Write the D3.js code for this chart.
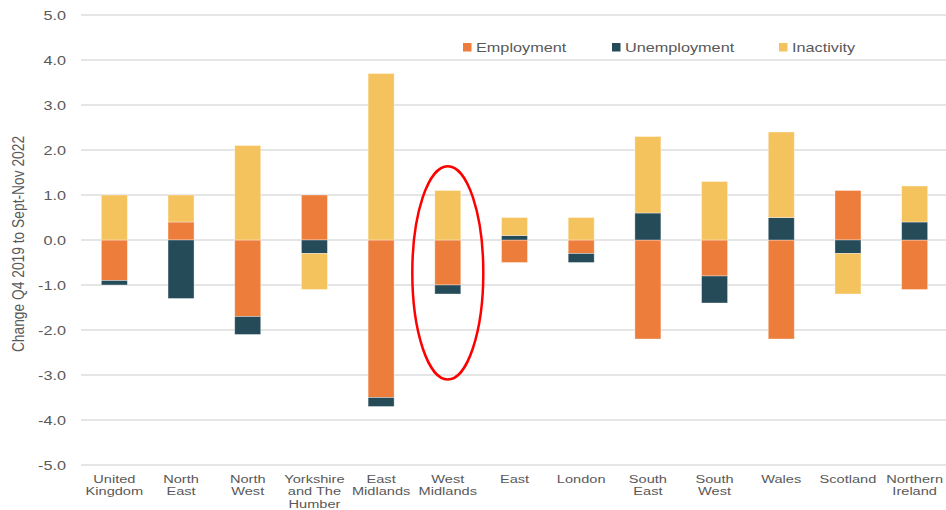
<!DOCTYPE html>
<html>
<head>
<meta charset="utf-8">
<script src="https://cdn.jsdelivr.net/npm/d3@7"></script>
<style>
  html, body { margin: 0; padding: 0; background: #fff; }
  svg { display: block; }
  text { font-family: "Liberation Sans", Arial, sans-serif; fill: #595959; }
</style>
</head>
<body>
<svg id="chart" width="946" height="510"></svg>
<script>
// ---- Data ----
const regions = [
  ["United", "Kingdom"], ["North", "East"], ["North", "West"],
  ["Yorkshire", "and The", "Humber"], ["East", "Midlands"], ["West", "Midlands"],
  ["East"], ["London"], ["South", "East"], ["South", "West"],
  ["Wales"], ["Scotland"], ["Northern", "Ireland"]
];
const seriesNames = ["Employment", "Unemployment", "Inactivity"];
const employment   = [-0.9, 0.4, -1.7, 1.0, -3.5, -1.0, -0.5, -0.3, -2.2, -0.8, -2.2, 1.1, -1.1];
const unemployment = [-0.1, -1.3, -0.4, -0.3, -0.2, -0.2, 0.1, -0.2, 0.6, -0.6, 0.5, -0.3, 0.4];
const inactivity   = [1.0, 0.6, 2.1, -0.8, 3.7, 1.1, 0.4, 0.5, 1.7, 1.3, 1.9, -0.9, 0.8];
const yTicks = [5, 4, 3, 2, 1, 0, -1, -2, -3, -4, -5];
const yTitle = "Change Q4 2019 to Sept-Nov 2022";
const highlighted = "West Midlands";

const colors = { Employment: "#ED7D3A", Unemployment: "#254B59", Inactivity: "#F5C35D" };

// ---- Build table ----
const names = regions.map(r => r.join(" "));
const table = names.map((n, i) => ({
  region: n,
  Employment: employment[i],
  Unemployment: unemployment[i],
  Inactivity: inactivity[i]
}));

const svg = d3.select("#chart");
const plotLeft = 81, plotRight = 948, plotTop = 15, plotBottom = 465;

const x = d3.scaleBand().domain(names).range([plotLeft, plotRight])
  .paddingInner(0.61).paddingOuter(0.305);
const y = d3.scaleLinear().domain([-5, 5]).range([plotBottom, plotTop]);

const SX = 1.3; // horizontal stretch of text in the reference

// gridlines
svg.append("g").selectAll("line").data(yTicks).join("line")
  .attr("x1", plotLeft).attr("x2", 946)
  .attr("y1", d => y(d)).attr("y2", d => y(d))
  .attr("stroke", "#dcdcdc").attr("stroke-width", 1.3);

// y tick labels
const fmt = d => d3.format(".1f")(d).replace("\u2212", "-");
const yAxis = d3.axisLeft(y).tickValues(yTicks).tickFormat(fmt).tickSize(0).tickPadding(0);
const yg = svg.append("g").attr("transform", `translate(66,0)`).call(yAxis);
yg.select(".domain").remove();
yg.selectAll(".tick text")
  .attr("x", null).attr("dy", null)
  .attr("dominant-baseline", "central")
  .attr("text-anchor", "end")
  .style("font-size", "12.5px")
  .style("fill", "#595959")
  .style("font-family", "'Liberation Sans', Arial, sans-serif")
  .attr("transform", `scale(${SX},1)`);

// y title
svg.append("text")
  .attr("transform", `translate(24,244) rotate(-90) scale(1,1.2)`)
  .attr("text-anchor", "middle")
  .style("font-size", "13.8px")
  .text(yTitle);

// stacked bars
const stack = d3.stack().keys(seriesNames).offset(d3.stackOffsetDiverging);
const stacked = stack(table);

svg.append("g").selectAll("g").data(stacked).join("g")
  .attr("fill", d => colors[d.key])
  .selectAll("rect").data(d => d).join("rect")
  .attr("x", d => x(d.data.region))
  .attr("width", x.bandwidth())
  .attr("y", d => y(Math.max(d[0], d[1])))
  .attr("height", d => Math.abs(y(d[0]) - y(d[1])))
  .attr("stroke", "rgba(255,255,255,0.45)")
  .attr("stroke-width", 0.8);

// x labels
const xl = svg.append("g");
regions.forEach((lines, i) => {
  const cx = x(names[i]) + x.bandwidth() / 2;
  lines.forEach((ln, j) => {
    xl.append("text")
      .attr("transform", `translate(${cx},${482.5 + j * 12.5}) scale(1.27,1)`)
      .attr("text-anchor", "middle")
      .style("font-size", "11.5px")
      .text(ln);
  });
});

// legend
const legendPos = [463, 612, 779];
const lg = svg.append("g");
seriesNames.forEach((s, i) => {
  lg.append("rect").attr("x", legendPos[i]).attr("y", 43)
    .attr("width", 8.5).attr("height", 8.5).attr("fill", colors[s]);
  lg.append("text")
    .attr("transform", `translate(${legendPos[i] + 13},52) scale(1.25,1)`)
    .style("font-size", "13px")
    .text(s);
});

// highlight ellipse
svg.append("ellipse")
  .attr("cx", x(highlighted) + x.bandwidth() / 2)
  .attr("cy", y(-0.73))
  .attr("rx", 35.5)
  .attr("ry", y(0) - y(2.37))
  .attr("fill", "none")
  .attr("stroke", "#FF0000")
  .attr("stroke-width", 2.5);
</script>
</body>
</html>
